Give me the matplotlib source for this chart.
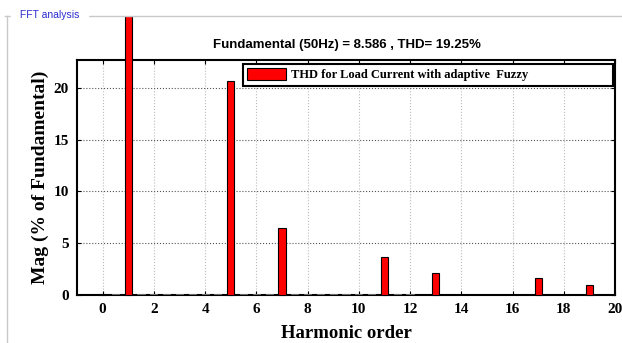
import numpy as np
import matplotlib
matplotlib.use('Agg')
from matplotlib import pyplot as plt
from matplotlib.transforms import Bbox
from matplotlib.lines import Line2D

# harmonic spectrum (% of fundamental)
orden = [0, 1, 5, 7, 11, 13, 17, 19]
mag = [0.05, 100.0, 20.7, 6.5, 3.7, 2.1, 1.65, 1.0]
# pequenos componentes interarmonicos
orden_p = [0.5, 1.5, 2, 2.5, 3, 3.5, 4, 4.5, 5.5, 6, 6.5, 7.5, 8, 8.5, 9, 9.5, 10, 10.5,
           11.5, 12, 12.5, 13.5, 14, 15, 16, 18.5]
mag_p = [0.12, 0.12, 0.08, 0.1, 0.1, 0.1, 0.12, 0.1, 0.08, 0.08, 0.08, 0.06, 0.06, 0.06,
         0.05, 0.05, 0.05, 0.05, 0.05, 0.05, 0.04, 0.04, 0.03, 0.02, 0.02, 0.02]

titulo = 'Fundamental (50Hz) = 8.586 , THD= 19.25%'
etiqueta = 'THD for Load Current with adaptive  Fuzzy'

serif = ['Liberation Serif', 'DejaVu Serif']
sans = ['Liberation Sans', 'DejaVu Sans']

fig = plt.figure(figsize=(6.22, 3.43), dpi=100)
fig.patch.set_facecolor('white')

# marco del panel "FFT analysis"
fig.add_artist(Line2D([5/622, 1.0], [1-16/343, 1-16/343], color='#c8c8c8', lw=1))
fig.add_artist(Line2D([7/622, 7/622], [0, 1-16/343], color='#c8c8c8', lw=1))
fig.text(17/622, 1-15/343, ' FFT analysis ', color='#2b2bd0', fontsize=7.5,
         family=sans, va='center', ha='left', backgroundcolor='white')

ax = fig.add_axes([77/622, 48/343, 538/622, 235/343])
barras = ax.bar(orden, mag, width=0.28, color='red', edgecolor='black', lw=0.8,
                label=etiqueta, zorder=3)
ax.bar(orden_p, mag_p, width=0.28, color='#555555', edgecolor='#777777', lw=0.6, zorder=3)

# la fundamental sale del eje hasta el borde del panel
caja = Bbox([[0, 0], [622, 343-16]])
for b in barras:
    b.set_clip_box(caja)

ax.set_xlim(-1, 20)
ax.set_ylim(0, 22.7)
ax.set_xticks(np.arange(0, 21, 2))
ax.set_yticks([0, 5, 10, 15, 20])
ax.xaxis.grid(True, linestyle=':', color='#bbbbbb', lw=0.8)
ax.yaxis.grid(True, linestyle=':', color='#555555', lw=0.8)
ax.set_axisbelow(True)
ax.tick_params(direction='in', top=True, right=True, length=3, width=0.8, pad=6)
for s in ax.spines.values():
    s.set_linewidth(1.5)
for t in ax.get_xticklabels() + ax.get_yticklabels():
    t.set_fontfamily(serif)
    t.set_fontweight('bold')
    t.set_fontsize(11)

ax.set_xlabel('Harmonic order', family=serif, fontweight='bold', fontsize=13.5, labelpad=6)
ax.set_ylabel('Mag (% of Fundamental)', family=serif, fontweight='bold', fontsize=14, labelpad=3)
fig.text(347/622, 1-45/343, titulo, family=sans, fontweight='bold', fontsize=9.5,
         ha='center', va='center')

leg = ax.legend(loc='upper left', bbox_to_anchor=(166/538, 1-27/235, 370/538, 23/235),
                mode='expand', prop={'family': serif, 'weight': 'bold', 'size': 9},
                frameon=True, fancybox=False, edgecolor='black', framealpha=1,
                borderpad=0.35, handlelength=3.1, handleheight=1.0, handletextpad=0.4,
                borderaxespad=0)
leg.get_frame().set_linewidth(1.5)
leg.set_zorder(5)

plt.savefig('out.png', dpi=100)
